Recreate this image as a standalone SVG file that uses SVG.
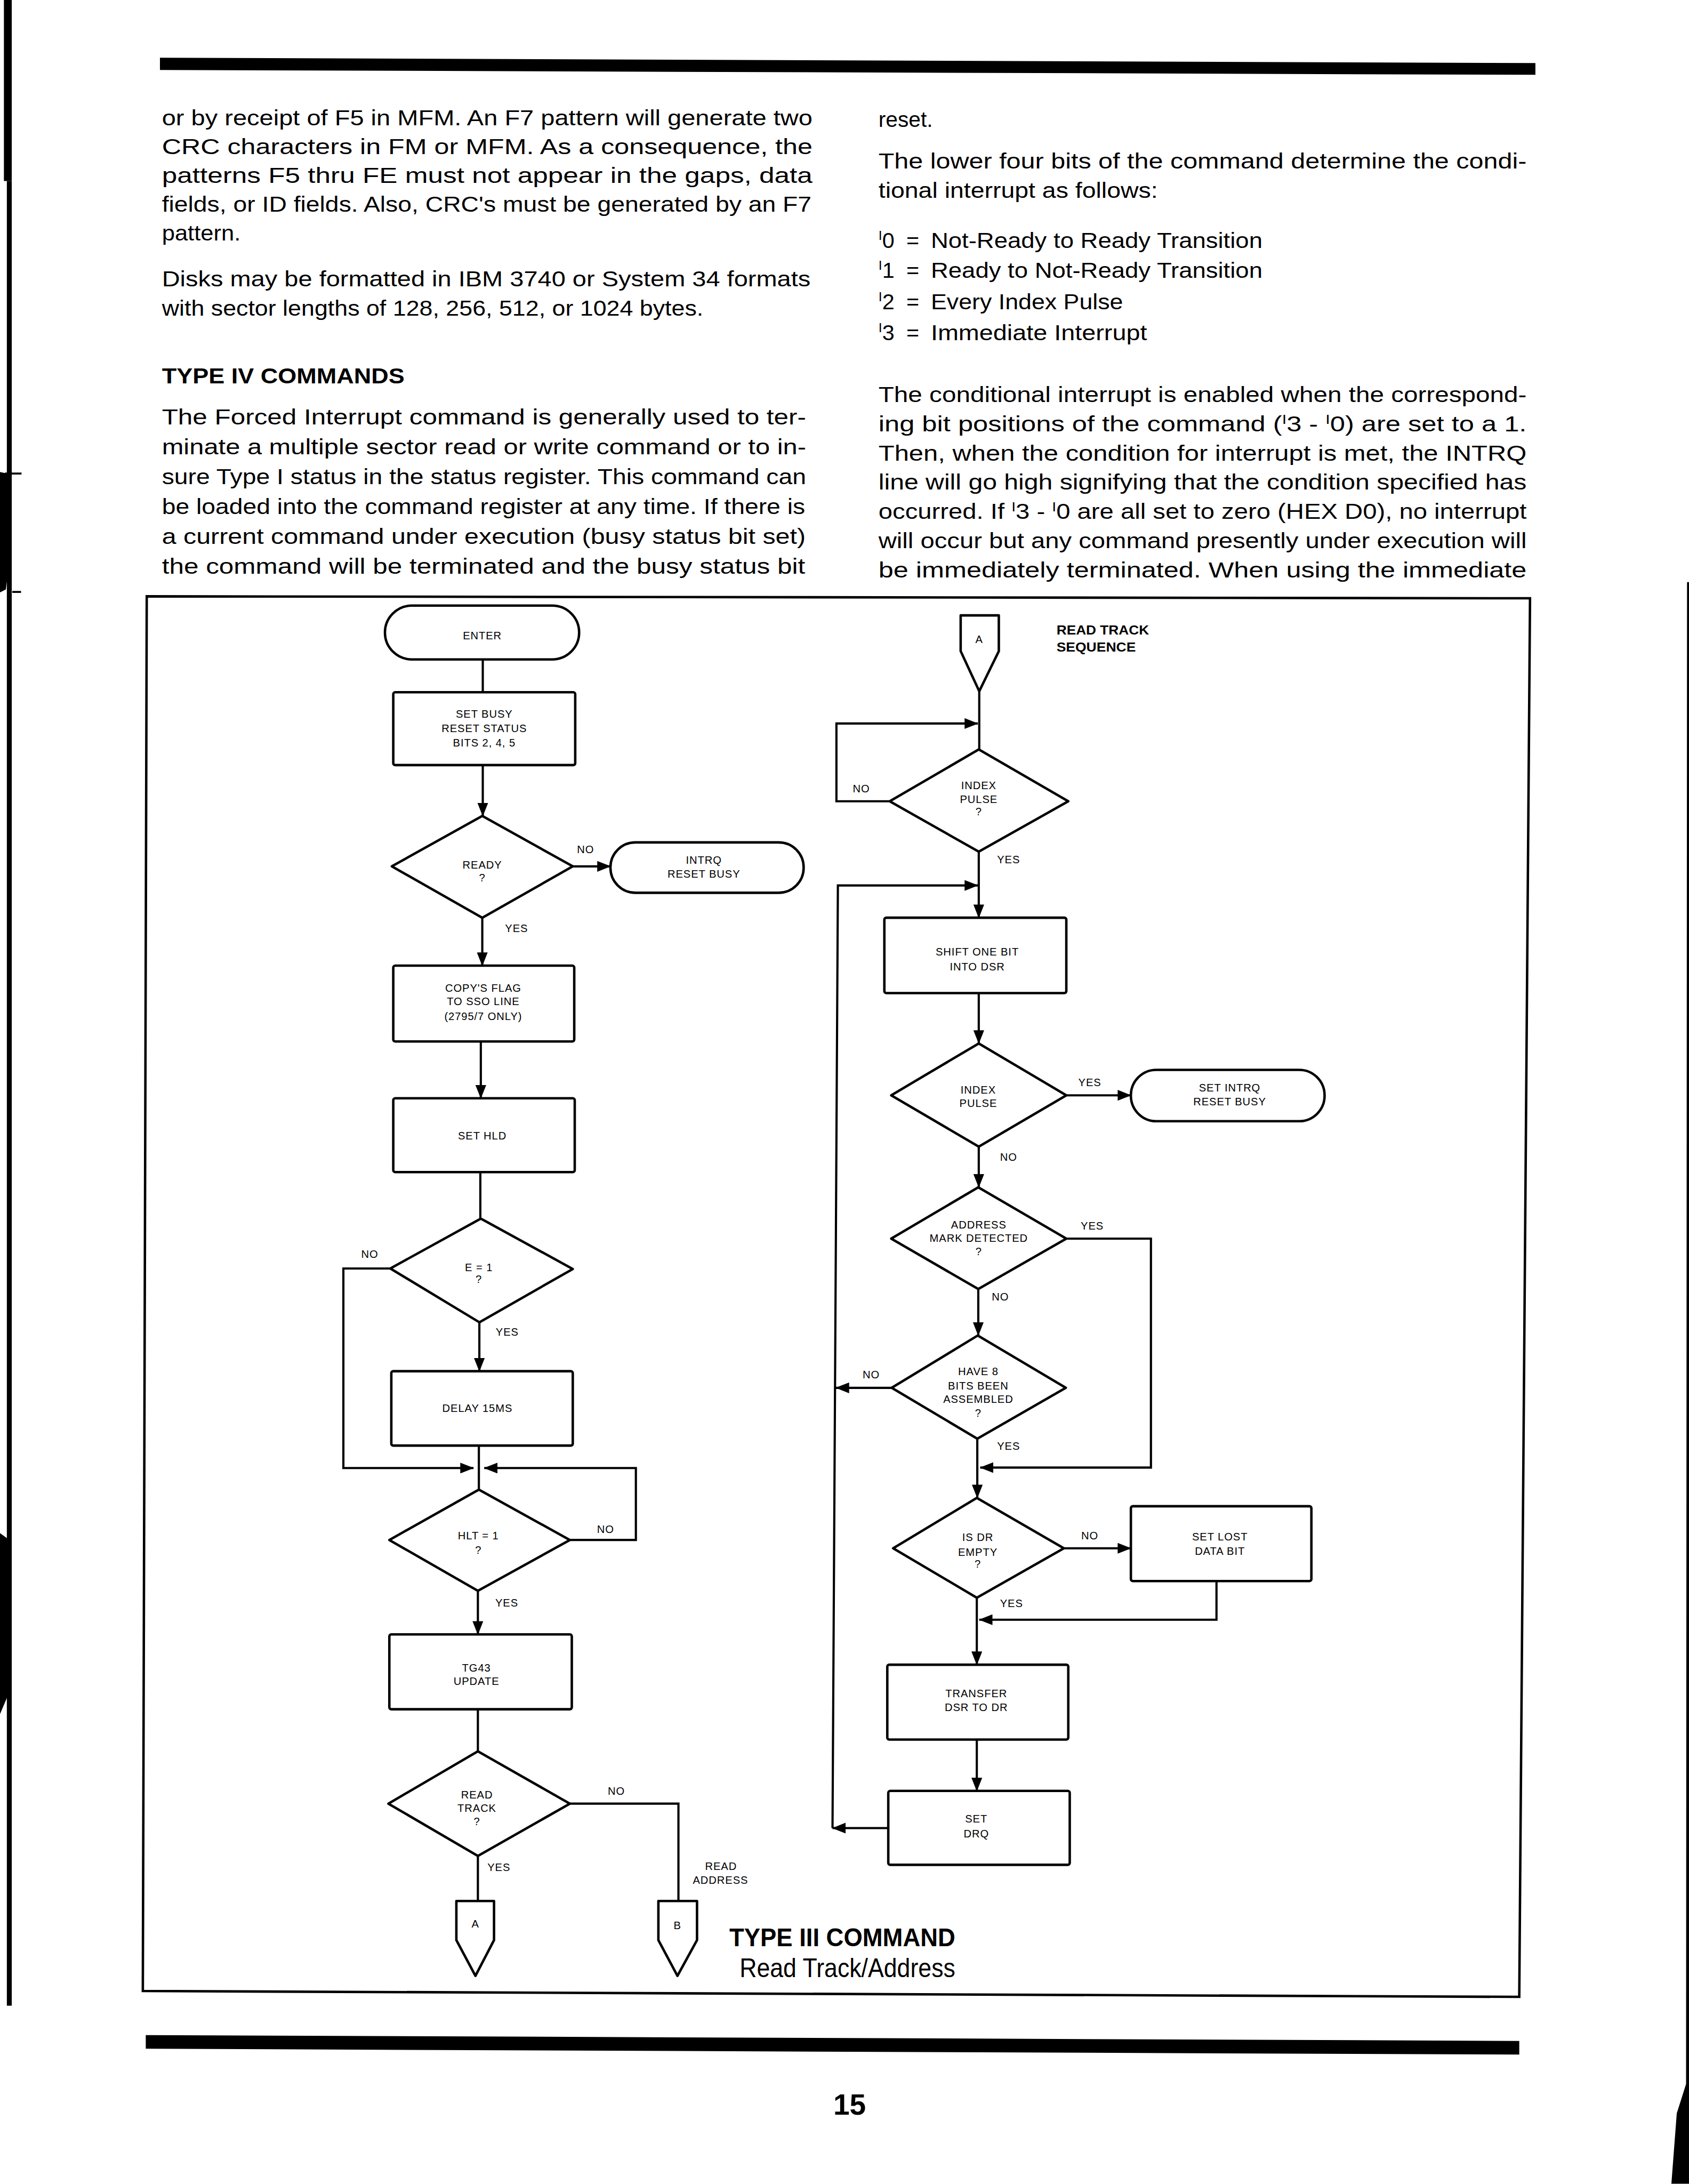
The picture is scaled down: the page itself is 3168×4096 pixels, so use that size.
<svg xmlns="http://www.w3.org/2000/svg" width="3168" height="4096" viewBox="0 0 3168 4096">
<style>
.b{fill:#fff;stroke:#000;stroke-width:5;stroke-linejoin:round}
.c{fill:none;stroke:#000;stroke-width:4.5}
.ca{fill:none;stroke:#000;stroke-width:4.5;marker-end:url(#ah)}
.ft{font-family:"Liberation Sans",Arial,Helvetica,sans-serif;font-size:22px;letter-spacing:1px;text-anchor:middle;fill:#000}
.body{font-family:"Liberation Sans",Arial,Helvetica,sans-serif;font-size:45px;fill:#000}
.bold{font-weight:bold}
.scan{fill:#000}
</style>
<defs>
<marker id="ah" viewBox="0 0 28 22" refX="27" refY="11" markerWidth="28" markerHeight="22" markerUnits="userSpaceOnUse" orient="auto">
<path d="M0,0 L28,11 L0,22 Z" fill="#000"/>
</marker>
</defs>
<rect width="3168" height="4096" fill="#fff"/>
<g transform="scale(0.917459)">
<g id="scan-edges">
<rect class="scan" x="8" y="0" width="16" height="370"/>
<rect class="scan" x="14" y="370" width="10" height="3730"/>
<path class="scan" d="M0,965 L14,968 L19,1000 L19,1150 L12,1205 L0,1211 Z"/>
<rect class="scan" x="10" y="966" width="34" height="4"/>
<rect class="scan" x="25" y="1208" width="18" height="4"/>
<path class="scan" d="M0,3134 L22,3150 L23,3450 L0,3504 Z"/>
<path class="scan" d="M3449,1190 L3453,1190 L3453,4464 L3417,4464 L3428,4320 L3447,4260 Z"/>
</g>
<g id="page-rules">
<path class="scan" d="M327,118 L3139,129 L3139,153 L327,143 Z"/>
<path class="scan" d="M298,4160 L3106,4172 L3106,4200 L298,4188 Z"/>
<text x="1737" y="4323" class="body bold" style="font-size:60px" text-anchor="middle">15</text>
</g>
<g id="text-left">
<text class="body" x="331" y="256" textLength="1330" lengthAdjust="spacingAndGlyphs">or by receipt of F5 in MFM. An F7 pattern will generate two</text>
<text class="body" x="331" y="315" textLength="1330" lengthAdjust="spacingAndGlyphs">CRC characters in FM or MFM. As a consequence, the</text>
<text class="body" x="331" y="374" textLength="1330" lengthAdjust="spacingAndGlyphs">patterns F5 thru FE must not appear in the gaps, data</text>
<text class="body" x="331" y="433" textLength="1328" lengthAdjust="spacingAndGlyphs">fields, or ID fields. Also, CRC's must be generated by an F7</text>
<text class="body" x="331" y="492" textLength="161" lengthAdjust="spacingAndGlyphs">pattern.</text>
<text class="body" x="331" y="585" textLength="1326" lengthAdjust="spacingAndGlyphs">Disks may be formatted in IBM 3740 or System 34 formats</text>
<text class="body" x="331" y="645" textLength="1107" lengthAdjust="spacingAndGlyphs">with sector lengths of 128, 256, 512, or 1024 bytes.</text>
<text class="body bold" x="331" y="784" textLength="496" lengthAdjust="spacingAndGlyphs">TYPE IV COMMANDS</text>
<text class="body" x="331" y="868" textLength="1317" lengthAdjust="spacingAndGlyphs">The Forced Interrupt command is generally used to ter-</text>
<text class="body" x="331" y="929" textLength="1317" lengthAdjust="spacingAndGlyphs">minate a multiple sector read or write command or to in-</text>
<text class="body" x="331" y="990" textLength="1317" lengthAdjust="spacingAndGlyphs">sure Type I status in the status register. This command can</text>
<text class="body" x="331" y="1051" textLength="1315" lengthAdjust="spacingAndGlyphs">be loaded into the command register at any time. If there is</text>
<text class="body" x="331" y="1112" textLength="1316" lengthAdjust="spacingAndGlyphs">a current command under execution (busy status bit set)</text>
<text class="body" x="331" y="1173" textLength="1315" lengthAdjust="spacingAndGlyphs">the command will be terminated and the busy status bit</text>
</g>
<g id="text-right">
<text class="body" x="1796" y="259" textLength="111" lengthAdjust="spacingAndGlyphs">reset.</text>
<text class="body" x="1796" y="344" textLength="1325" lengthAdjust="spacingAndGlyphs">The lower four bits of the command determine the condi-</text>
<text class="body" x="1796" y="404" textLength="571" lengthAdjust="spacingAndGlyphs">tional interrupt as follows:</text>
<text class="body" x="1796" y="507"><tspan font-size="27" dy="-16">I</tspan><tspan dy="16">0</tspan></text>
<text class="body" x="1853" y="507">=</text>
<text class="body" x="1903" y="507" textLength="678" lengthAdjust="spacingAndGlyphs">Not-Ready to Ready Transition</text>
<text class="body" x="1796" y="568"><tspan font-size="27" dy="-16">I</tspan><tspan dy="16">1</tspan></text>
<text class="body" x="1853" y="568">=</text>
<text class="body" x="1903" y="568" textLength="678" lengthAdjust="spacingAndGlyphs">Ready to Not-Ready Transition</text>
<text class="body" x="1796" y="632"><tspan font-size="27" dy="-16">I</tspan><tspan dy="16">2</tspan></text>
<text class="body" x="1853" y="632">=</text>
<text class="body" x="1903" y="632" textLength="393" lengthAdjust="spacingAndGlyphs">Every Index Pulse</text>
<text class="body" x="1796" y="695"><tspan font-size="27" dy="-16">I</tspan><tspan dy="16">3</tspan></text>
<text class="body" x="1853" y="695">=</text>
<text class="body" x="1903" y="695" textLength="442" lengthAdjust="spacingAndGlyphs">Immediate Interrupt</text>
<text class="body" x="1796" y="822" textLength="1325" lengthAdjust="spacingAndGlyphs">The conditional interrupt is enabled when the correspond-</text>
<text class="body" x="1796" y="882" textLength="1325" lengthAdjust="spacingAndGlyphs">ing bit positions of the command (<tspan font-size="27" dy="-16">I</tspan><tspan dy="16">3 - </tspan><tspan font-size="27" dy="-16">I</tspan><tspan dy="16">0) are set to a 1.</tspan></text>
<text class="body" x="1796" y="942" textLength="1325" lengthAdjust="spacingAndGlyphs">Then, when the condition for interrupt is met, the INTRQ</text>
<text class="body" x="1796" y="1001" textLength="1325" lengthAdjust="spacingAndGlyphs">line will go high signifying that the condition specified has</text>
<text class="body" x="1796" y="1061" textLength="1325" lengthAdjust="spacingAndGlyphs">occurred. If <tspan font-size="27" dy="-16">I</tspan><tspan dy="16">3 - </tspan><tspan font-size="27" dy="-16">I</tspan><tspan dy="16">0 are all set to zero (HEX D0), no interrupt</tspan></text>
<text class="body" x="1796" y="1121" textLength="1325" lengthAdjust="spacingAndGlyphs">will occur but any command presently under execution will</text>
<text class="body" x="1796" y="1180" textLength="1325" lengthAdjust="spacingAndGlyphs">be immediately terminated. When using the immediate</text>
</g>
<path id="frame" d="M300,1219 L3128,1223 L3106,4082 L292,4070 Z" fill="none" stroke="#000" stroke-width="5"/>
<g id="connectors">
<path class="c" d="M987,1348 V1415"/>
<path class="ca" d="M987,1564 V1668"/>
<path class="ca" d="M1171,1771 H1248"/>
<path class="ca" d="M986,1876 V1974"/>
<path class="ca" d="M983,2129 V2245"/>
<path class="c" d="M982,2396 V2491"/>
<path class="ca" d="M980,2703 V2803"/>
<path class="ca" d="M798,2593 H702 V3001 H968"/>
<path class="c" d="M979,2955 V3045"/>
<path class="ca" d="M1165,3148 H1300 V3001 H990"/>
<path class="ca" d="M977,3252 V3341"/>
<path class="c" d="M977,3494 V3580"/>
<path class="c" d="M977,3794 V3886"/>
<path class="c" d="M1165,3687 H1387 V3886"/>
<path class="c" d="M2002,1413 V1532"/>
<path class="ca" d="M1819,1638 H1710 V1479 H1999"/>
<path class="ca" d="M2001,1741 V1876"/>
<path class="ca" d="M1702,3737 L1713,1810 H1999"/>
<path class="ca" d="M1816,3737 H1702"/>
<path class="ca" d="M1823,2837 H1709"/>
<path class="ca" d="M2001,2030 V2133"/>
<path class="ca" d="M2180,2239 H2312"/>
<path class="ca" d="M2001,2344 V2427"/>
<path class="ca" d="M2000,2635 V2730"/>
<path class="ca" d="M2180,2532 H2353 V3000 H2004"/>
<path class="ca" d="M1998,2941 V3062"/>
<path class="ca" d="M2175,3165 H2312"/>
<path class="ca" d="M2487,3232 V3311 H2002"/>
<path class="ca" d="M1997,3266 V3403"/>
<path class="ca" d="M1997,3556 V3661"/>
</g>
<g id="connector-labels" class="ft">
<text x="1197" y="1744">NO</text>
<text x="1056" y="1905">YES</text>
<text x="756" y="2571">NO</text>
<text x="1037" y="2730">YES</text>
<text x="1238" y="3134">NO</text>
<text x="1036" y="3284">YES</text>
<text x="1260" y="3669">NO</text>
<text x="1020" y="3825">YES</text>
<text x="1474" y="3823">READ</text>
<text x="1473" y="3851">ADDRESS</text>
<text x="1761" y="1620">NO</text>
<text x="2062" y="1765">YES</text>
<text x="2228" y="2220">YES</text>
<text x="2062" y="2373">NO</text>
<text x="2233" y="2513">YES</text>
<text x="2045" y="2658">NO</text>
<text x="1781" y="2818">NO</text>
<text x="2062" y="2964">YES</text>
<text x="2228" y="3147">NO</text>
<text x="2068" y="3285">YES</text>
</g>
<g id="n-enter"><rect class="b" x="787" y="1238" width="397" height="110" rx="55"/><text class="ft" x="986" y="1307">ENTER</text></g>
<g id="n-setbusy"><rect class="b" x="804" y="1415" width="372" height="149" rx="4"/><text class="ft" x="990" y="1467">SET BUSY</text><text class="ft" x="990" y="1496">RESET STATUS</text><text class="ft" x="990" y="1526">BITS 2, 4, 5</text></g>
<g id="n-ready"><path class="b" d="M986,1668 L1171,1771 L986,1876 L801,1771 Z"/><text class="ft" x="986" y="1776">READY</text><text class="ft" x="986" y="1802">?</text></g>
<g id="n-intrq1"><rect class="b" x="1248" y="1722" width="395" height="103" rx="51"/><text class="ft" x="1439" y="1766">INTRQ</text><text class="ft" x="1439" y="1794">RESET BUSY</text></g>
<g id="n-copy"><rect class="b" x="804" y="1974" width="370" height="155" rx="4"/><text class="ft" x="988" y="2027">COPY'S FLAG</text><text class="ft" x="988" y="2055">TO SSO LINE</text><text class="ft" x="988" y="2085">(2795/7 ONLY)</text></g>
<g id="n-sethld"><rect class="b" x="804" y="2245" width="371" height="151" rx="4"/><text class="ft" x="986" y="2329">SET HLD</text></g>
<g id="n-e1"><path class="b" d="M983,2491 L1171,2594 L980,2703 L798,2593 Z"/><text class="ft" x="979" y="2598">E = 1</text><text class="ft" x="979" y="2623">?</text></g>
<g id="n-delay"><rect class="b" x="800" y="2803" width="371" height="152" rx="4"/><text class="ft" x="976" y="2886">DELAY 15MS</text></g>
<g id="n-hlt"><path class="b" d="M979,3045 L1165,3148 L977,3252 L796,3148 Z"/><text class="ft" x="978" y="3147">HLT = 1</text><text class="ft" x="978" y="3176">?</text></g>
<g id="n-tg43"><rect class="b" x="796" y="3341" width="373" height="153" rx="4"/><text class="ft" x="974" y="3417">TG43</text><text class="ft" x="974" y="3444">UPDATE</text></g>
<g id="n-readtrack"><path class="b" d="M977,3580 L1165,3687 L977,3794 L794,3687 Z"/><text class="ft" x="975" y="3676">READ</text><text class="ft" x="975" y="3704">TRACK</text><text class="ft" x="975" y="3731">?</text></g>
<g id="n-a-out"><path class="b" d="M933,3886 H1010 V3966 L972,4039 L933,3966 Z"/><text class="ft" x="972" y="3940">A</text></g>
<g id="n-b-out"><path class="b" d="M1346,3886 H1425 V3966 L1385,4039 L1346,3966 Z"/><text class="ft" x="1385" y="3943">B</text></g>
<g id="title"><text class="body bold" x="1491" y="3978" style="font-size:52px" textLength="462" lengthAdjust="spacingAndGlyphs">TYPE III COMMAND</text><text class="body" x="1512" y="4042" style="font-size:54px" textLength="441" lengthAdjust="spacingAndGlyphs">Read Track/Address</text></g>
<g id="n-a-in"><path class="b" d="M1964,1258 H2042 V1331 L2002,1413 L1964,1331 Z"/><text class="ft" x="2002" y="1315">A</text></g>
<g id="seq-label"><text class="body bold" x="2160" y="1297" style="font-size:26px" textLength="189" lengthAdjust="spacingAndGlyphs">READ TRACK</text><text class="body bold" x="2160" y="1332" style="font-size:26px" textLength="162" lengthAdjust="spacingAndGlyphs">SEQUENCE</text></g>
<g id="n-index1"><path class="b" d="M2001,1532 L2184,1638 L2001,1741 L1819,1638 Z"/><text class="ft" x="2001" y="1613">INDEX</text><text class="ft" x="2001" y="1642">PULSE</text><text class="ft" x="2001" y="1667">?</text></g>
<g id="n-shift"><rect class="b" x="1808" y="1876" width="372" height="154" rx="4"/><text class="ft" x="1998" y="1953">SHIFT ONE BIT</text><text class="ft" x="1998" y="1984">INTO DSR</text></g>
<g id="n-index2"><path class="b" d="M2001,2133 L2180,2239 L2001,2344 L1822,2239 Z"/><text class="ft" x="2000" y="2236">INDEX</text><text class="ft" x="2000" y="2263">PULSE</text></g>
<g id="n-intrq2"><rect class="b" x="2312" y="2187" width="396" height="105" rx="52"/><text class="ft" x="2514" y="2231">SET INTRQ</text><text class="ft" x="2514" y="2260">RESET BUSY</text></g>
<g id="n-addr"><path class="b" d="M2000,2427 L2180,2532 L2000,2635 L1822,2532 Z"/><text class="ft" x="2001" y="2511">ADDRESS</text><text class="ft" x="2001" y="2539">MARK DETECTED</text><text class="ft" x="2001" y="2566">?</text></g>
<g id="n-have8"><path class="b" d="M1999,2730 L2179,2837 L1998,2941 L1823,2837 Z"/><text class="ft" x="2000" y="2811">HAVE 8</text><text class="ft" x="2000" y="2840">BITS BEEN</text><text class="ft" x="2000" y="2868">ASSEMBLED</text><text class="ft" x="2000" y="2896">?</text></g>
<g id="n-isdr"><path class="b" d="M1997,3062 L2175,3165 L1997,3266 L1826,3165 Z"/><text class="ft" x="1999" y="3150">IS DR</text><text class="ft" x="1999" y="3180">EMPTY</text><text class="ft" x="1999" y="3205">?</text></g>
<g id="n-lost"><rect class="b" x="2312" y="3079" width="369" height="153" rx="4"/><text class="ft" x="2494" y="3149">SET LOST</text><text class="ft" x="2494" y="3178">DATA BIT</text></g>
<g id="n-transfer"><rect class="b" x="1814" y="3403" width="370" height="153" rx="4"/><text class="ft" x="1996" y="3469">TRANSFER</text><text class="ft" x="1996" y="3498">DSR TO DR</text></g>
<g id="n-drq"><rect class="b" x="1816" y="3661" width="371" height="151" rx="4"/><text class="ft" x="1996" y="3726">SET</text><text class="ft" x="1996" y="3756">DRQ</text></g>
</g>
</svg>
